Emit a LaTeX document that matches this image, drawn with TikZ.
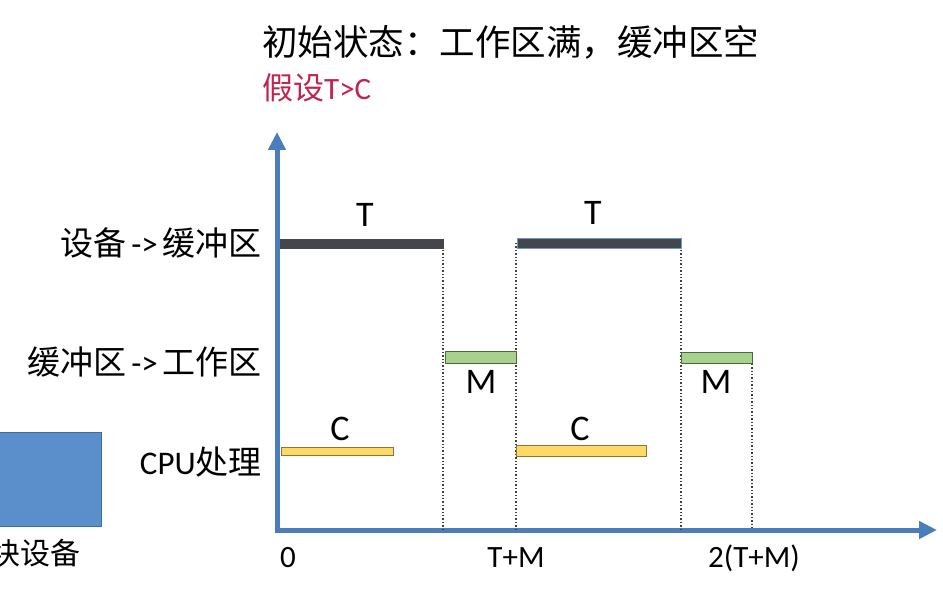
\documentclass[tikz,border=0pt]{standalone}
\usepackage{fontspec}
\setmainfont{Carlito}
\newfontfamily\cjk{Noto Sans CJK SC}
\usetikzlibrary{arrows.meta}
\definecolor{axisblue}{HTML}{4A7EBB}
\definecolor{darkbar}{HTML}{45454C}
\definecolor{greenbar}{HTML}{A9D18E}
\definecolor{greenedge}{HTML}{4A6A3A}
\definecolor{yellowbar}{HTML}{FFD966}
\definecolor{yellowedge}{HTML}{8A7436}
\definecolor{crimson}{HTML}{C0234E}
\definecolor{boxblue}{HTML}{5B8FCC}
\definecolor{boxedge}{HTML}{3F6C9E}
\tikzset{
  axisline/.style={draw=axisblue, line width=5pt, -{Triangle[length=18pt,width=17pt]}},
  tbar/.style={fill=darkbar, draw=darkbar, line width=0.8pt},
  mbar/.style={fill=greenbar, draw=greenedge, line width=1pt},
  cbar/.style={fill=yellowbar, draw=yellowedge, line width=0.8pt},
  guide/.style={draw=black!75, line width=1.4pt, dotted},
  rowlab/.style={anchor=east, inner sep=0pt, font=\fontsize{33}{37}\selectfont},
  seglab/.style={inner sep=0pt, font=\fontsize{36}{40}\selectfont},
  ticklab/.style={inner sep=0pt, font=\fontsize{31}{35}\selectfont},
}
\begin{document}
\begin{tikzpicture}[x=1pt,y=-1pt]
\useasboundingbox (0,0) rectangle (943,604);
% left partial box
\node[fill=boxblue, draw=boxedge, line width=1pt, minimum width=104pt, minimum height=94pt, inner sep=0pt, anchor=north west] (blockdev) at (-3,432) {};
\node[anchor=east, inner sep=0pt, font=\cjk\fontsize{30}{34}\selectfont] (blockdevlab) at (81,553) {块设备};
% titles
\node[anchor=west, inner sep=0pt, font=\cjk\fontsize{35.5}{40}\selectfont] (title) at (262,42) {初始状态：工作区满，缓冲区空};
\node[anchor=west, inner sep=0pt, text=crimson, font=\fontsize{31}{35}\selectfont] (assume) at (262,88) {{\cjk 假设}T>C};
% axes
\coordinate (origin) at (277,530);
\coordinate (ytop) at (277,132);
\coordinate (xend) at (937,530);
\draw[axisline] (277,533) -- (ytop);
\draw[axisline] (274.5,530) -- (xend);
% guide coordinates
\coordinate (g1t) at (443,243); \coordinate (g1b) at (443,530);
\coordinate (g2t) at (516,243); \coordinate (g2b) at (516,530);
\coordinate (g3t) at (681,243); \coordinate (g3b) at (681,530);
\coordinate (g4t) at (752,357); \coordinate (g4b) at (752,530);
\draw[guide] (g1t) -- (g1b);
\draw[guide] (g2t) -- (g2b);
\draw[guide] (g3t) -- (g3b);
\draw[guide] (g4t) -- (g4b);
% bars
\draw[tbar] (280,239) rectangle (443,248);
\draw[tbar, draw=axisblue!80] (517,238.5) rectangle (681,248);
\draw[mbar] (445,351) rectangle (516,363);
\draw[mbar] (681,352) rectangle (752,363);
\draw[cbar] (281,447) rectangle (393,455);
\draw[cbar] (516,445) rectangle (646,456);
% row labels
\node[rowlab] (row1) at (262,243) {{\cjk 设备}\kern5pt->\kern5pt{\cjk 缓冲区}};
\node[rowlab] (row2) at (262,362) {{\cjk 缓冲区}\kern5pt->\kern5pt{\cjk 工作区}};
\node[rowlab] (row3) at (262,462) {CPU{\cjk 处理}};
% segment labels
\node[seglab] (t1) at (365,215) {T};
\node[seglab] (t2) at (593,213) {T};
\node[seglab] (m1) at (481,382) {M};
\node[seglab] (m2) at (716,382) {M};
\node[seglab] (c1) at (340,429) {C};
\node[seglab] (c2) at (580,429) {C};
% tick labels
\node[ticklab] (tick0) at (288,558) {0};
\node[ticklab] (tick1) at (516,558) {T+M};
\node[ticklab] (tick2) at (754,558) {2(T+M)};
\end{tikzpicture}
\end{document}
